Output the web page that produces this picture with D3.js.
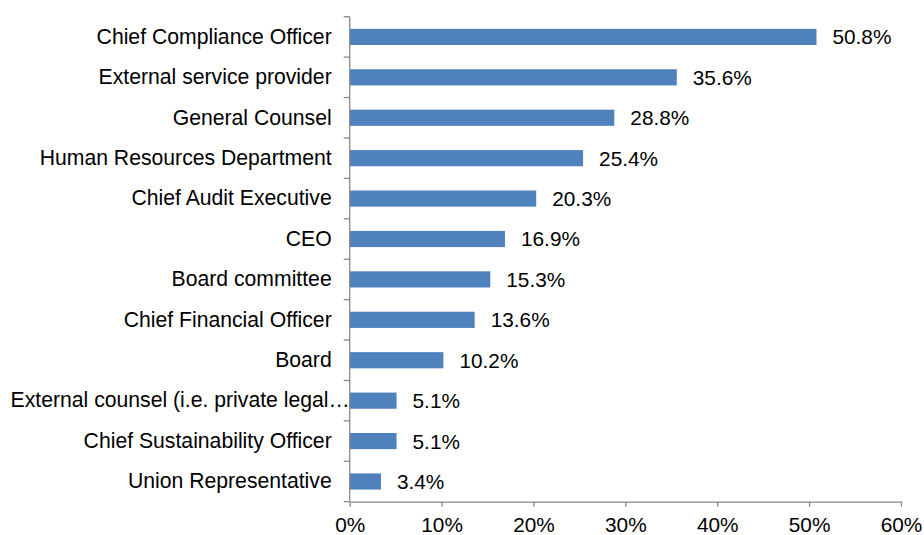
<!DOCTYPE html>
<html>
<head>
<meta charset="utf-8">
<script src="https://cdn.jsdelivr.net/npm/d3@7"></script>
<style>
    body { margin: 0; background: #fff; }
    text { font-family: "Liberation Sans", Arial, sans-serif; fill: #000; }
</style>
</head>
<body>
<svg></svg>
<script>
// данные диаграммы
const categories = [
    'Chief Compliance Officer',
    'External service provider',
    'General Counsel ',
    'Human Resources Department',
    'Chief Audit Executive',
    'CEO',
    'Board committee',
    'Chief Financial Officer',
    'Board',
    'External counsel (i.e. private legal\u2026',
    'Chief Sustainability Officer',
    'Union Representative'
];
const values = [50.8, 35.6, 28.8, 25.4, 20.3, 16.9, 15.3, 13.6, 10.2, 5.1, 5.1, 3.4];
const xTicks = [0, 10, 20, 30, 40, 50, 60];

const width = 924;
const height = 535;
const plotLeft = 349.7;
const plotRight = 901;
const plotTop = 16.7;
const plotBottom = 501.7;
const axisColor = '#898989';

const svg = d3.select('svg')
    .attr('width', width)
    .attr('height', height);

// шкалы
const scaleX = d3.scaleLinear().domain([0, 60]).range([plotLeft, plotRight]);
const scaleY = d3.scaleBand()
    .domain(categories)
    .range([plotTop, plotBottom])
    .paddingInner(0.6)
    .paddingOuter(0.3);

const data = categories.map((c, i) => ({ label: c, value: values[i] }));

// столбцы
svg.selectAll('.bar')
    .data(data)
    .enter()
    .append('rect')
    .attr('class', 'bar')
    .attr('x', scaleX(0))
    .attr('y', d => scaleY(d.label))
    .attr('width', d => scaleX(d.value) - scaleX(0))
    .attr('height', scaleY.bandwidth())
    .style('fill', '#4f81bd');

// подписи значений
svg.selectAll('.val')
    .data(data)
    .enter()
    .append('text')
    .attr('class', 'val')
    .attr('x', d => scaleX(d.value) + 16)
    .attr('y', d => scaleY(d.label) + scaleY.bandwidth() / 2)
    .attr('dy', '0.36em')
    .style('font-size', '20.8px')
    .text(d => d.value.toFixed(1) + '%');

// ось OX
const axisX = d3.axisBottom(scaleX)
    .tickValues(xTicks)
    .tickFormat(d => d + '%')
    .tickSize(5)
    .tickSizeOuter(0)
    .tickPadding(11);

const gx = svg.append('g')
    .attr('transform', `translate(0, ${plotBottom})`)
    .call(axisX);
gx.select('.domain').attr('stroke', axisColor).attr('stroke-width', 1.3);
gx.selectAll('.tick line').attr('stroke', axisColor).attr('stroke-width', 1.3);
gx.selectAll('.tick text')
    .style('font-size', '20.8px')
    .style('font-family', '"Liberation Sans", Arial, sans-serif')
    .attr('fill', '#000');

// ось OY (без засечек, засечки на границах категорий)
const axisY = d3.axisLeft(scaleY).tickSize(0).tickPadding(18);
const gy = svg.append('g')
    .attr('transform', `translate(${plotLeft}, 0)`)
    .call(axisY);
gy.select('.domain').remove();
gy.selectAll('.tick text')
    .style('font-size', '21.2px')
    .style('font-family', '"Liberation Sans", Arial, sans-serif')
    .attr('fill', '#000');

// обрезанная подпись заходит на ось, как в исходнике
gy.selectAll('.tick text')
    .filter(d => d.endsWith('\u2026'))
    .attr('dx', 18);

gy.append('line')
    .attr('x1', 0).attr('x2', 0)
    .attr('y1', plotTop).attr('y2', plotBottom)
    .attr('stroke', axisColor)
    .attr('stroke-width', 1.3);

const step = scaleY.step();
const bounds = d3.range(categories.length + 1).map(i => plotTop + i * step);
gy.selectAll('.bound')
    .data(bounds)
    .enter()
    .append('line')
    .attr('class', 'bound')
    .attr('x1', -6).attr('x2', 0)
    .attr('y1', d => d).attr('y2', d => d)
    .attr('stroke', axisColor)
    .attr('stroke-width', 1.3);
</script>
</body>
</html>
